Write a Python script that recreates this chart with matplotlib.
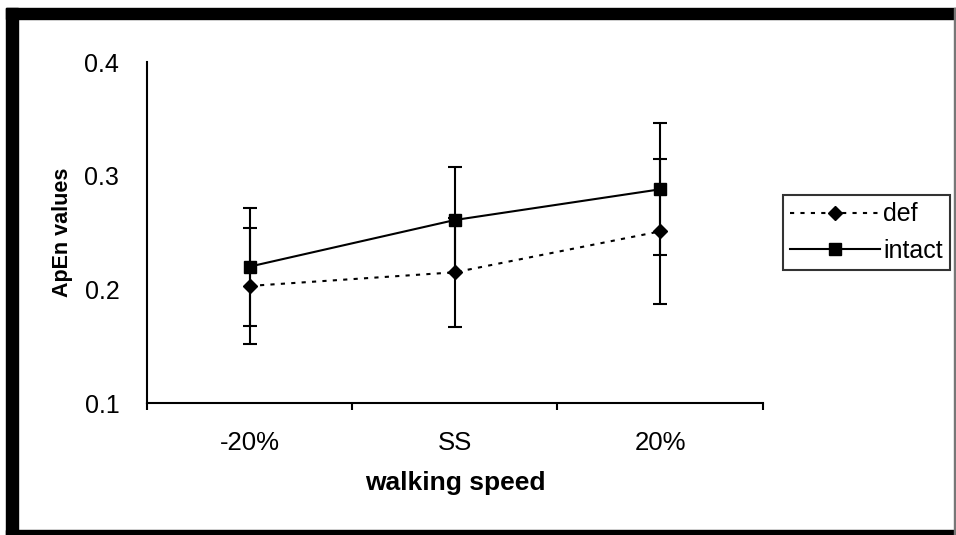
# ApEn values vs walking speed
import matplotlib
matplotlib.use("Agg")
import matplotlib.pyplot as plt
from matplotlib.patches import Rectangle
import numpy as np

plt.rcParams['font.family'] = ['Liberation Sans', 'DejaVu Sans']

speeds = ['-20%', 'SS', '20%']
def_vals = [0.203, 0.215, 0.251]
def_err = [0.051, 0.048, 0.064]
intact_vals = [0.220, 0.261, 0.288]
intact_err = [0.052, 0.047, 0.058]

fig = plt.figure(figsize=(9.56, 5.35), dpi=100)
ax = fig.add_axes([0.1538, 0.2467, 0.644, 0.6374])

x = np.arange(len(speeds))
ax.errorbar(x, def_vals, yerr=def_err, color='black', linestyle=(0, (2, 3)), lw=1.5,
            marker='D', markersize=7, capsize=4.7, elinewidth=1.5, capthick=1.5, label='def')
ax.errorbar(x, intact_vals, yerr=intact_err, color='black', linestyle='-', lw=1.5,
            marker='s', markersize=8, capsize=4.7, elinewidth=1.5, capthick=1.5, label='intact')

ax.set_xlim(-0.5, 2.5)
ax.set_ylim(0.1, 0.4)
ax.set_yticks([0.1, 0.2, 0.3, 0.4])
ax.set_yticklabels(['0.1', '0.2', '0.3', '0.4'])
ax.tick_params(axis='y', length=0, pad=20, labelsize=18)

# category ticks between groups, labels in the middle
ax.set_xticks([-0.5, 0.5, 1.5, 2.5])
ax.set_xticklabels([])
ax.set_xticks(x, minor=True)
ax.set_xticklabels(speeds, minor=True)
ax.tick_params(axis='x', which='major', direction='out', length=5, width=1.5)
ax.tick_params(axis='x', which='minor', length=0, pad=20, labelsize=18.5)

for s in ['top', 'right']:
    ax.spines[s].set_visible(False)
for s in ['left', 'bottom']:
    ax.spines[s].set_linewidth(1.5)

ax.set_xlabel('walking speed', fontsize=19, fontweight='bold', labelpad=12)
ax.set_ylabel('ApEn values', fontsize=15.5, fontweight='heavy', labelpad=8)

h, l = ax.get_legend_handles_labels()
h = [hh[0] for hh in h]
leg = fig.legend(h, l, loc='center left', bbox_to_anchor=(0.819, 0.5654), fontsize=18,
                 frameon=True, fancybox=False, edgecolor='black', handlelength=3.6,
                 handletextpad=0.1, borderpad=0.3, labelspacing=0.5, borderaxespad=0)
leg.get_frame().set_linewidth(1.5)

# window-like frame
fig.add_artist(Rectangle((0.0063, 0), 0.0125, 0.985, transform=fig.transFigure, color='black'))
fig.add_artist(Rectangle((0.0063, 0.9645), 0.9937, 0.0205, transform=fig.transFigure, color='black'))
fig.add_artist(Rectangle((0.0063, 0), 0.9937, 0.0093, transform=fig.transFigure, color='black'))
fig.add_artist(Rectangle((0.998, 0), 0.002, 0.985, transform=fig.transFigure, color='#777777'))

fig.savefig('out.png', dpi=100)
